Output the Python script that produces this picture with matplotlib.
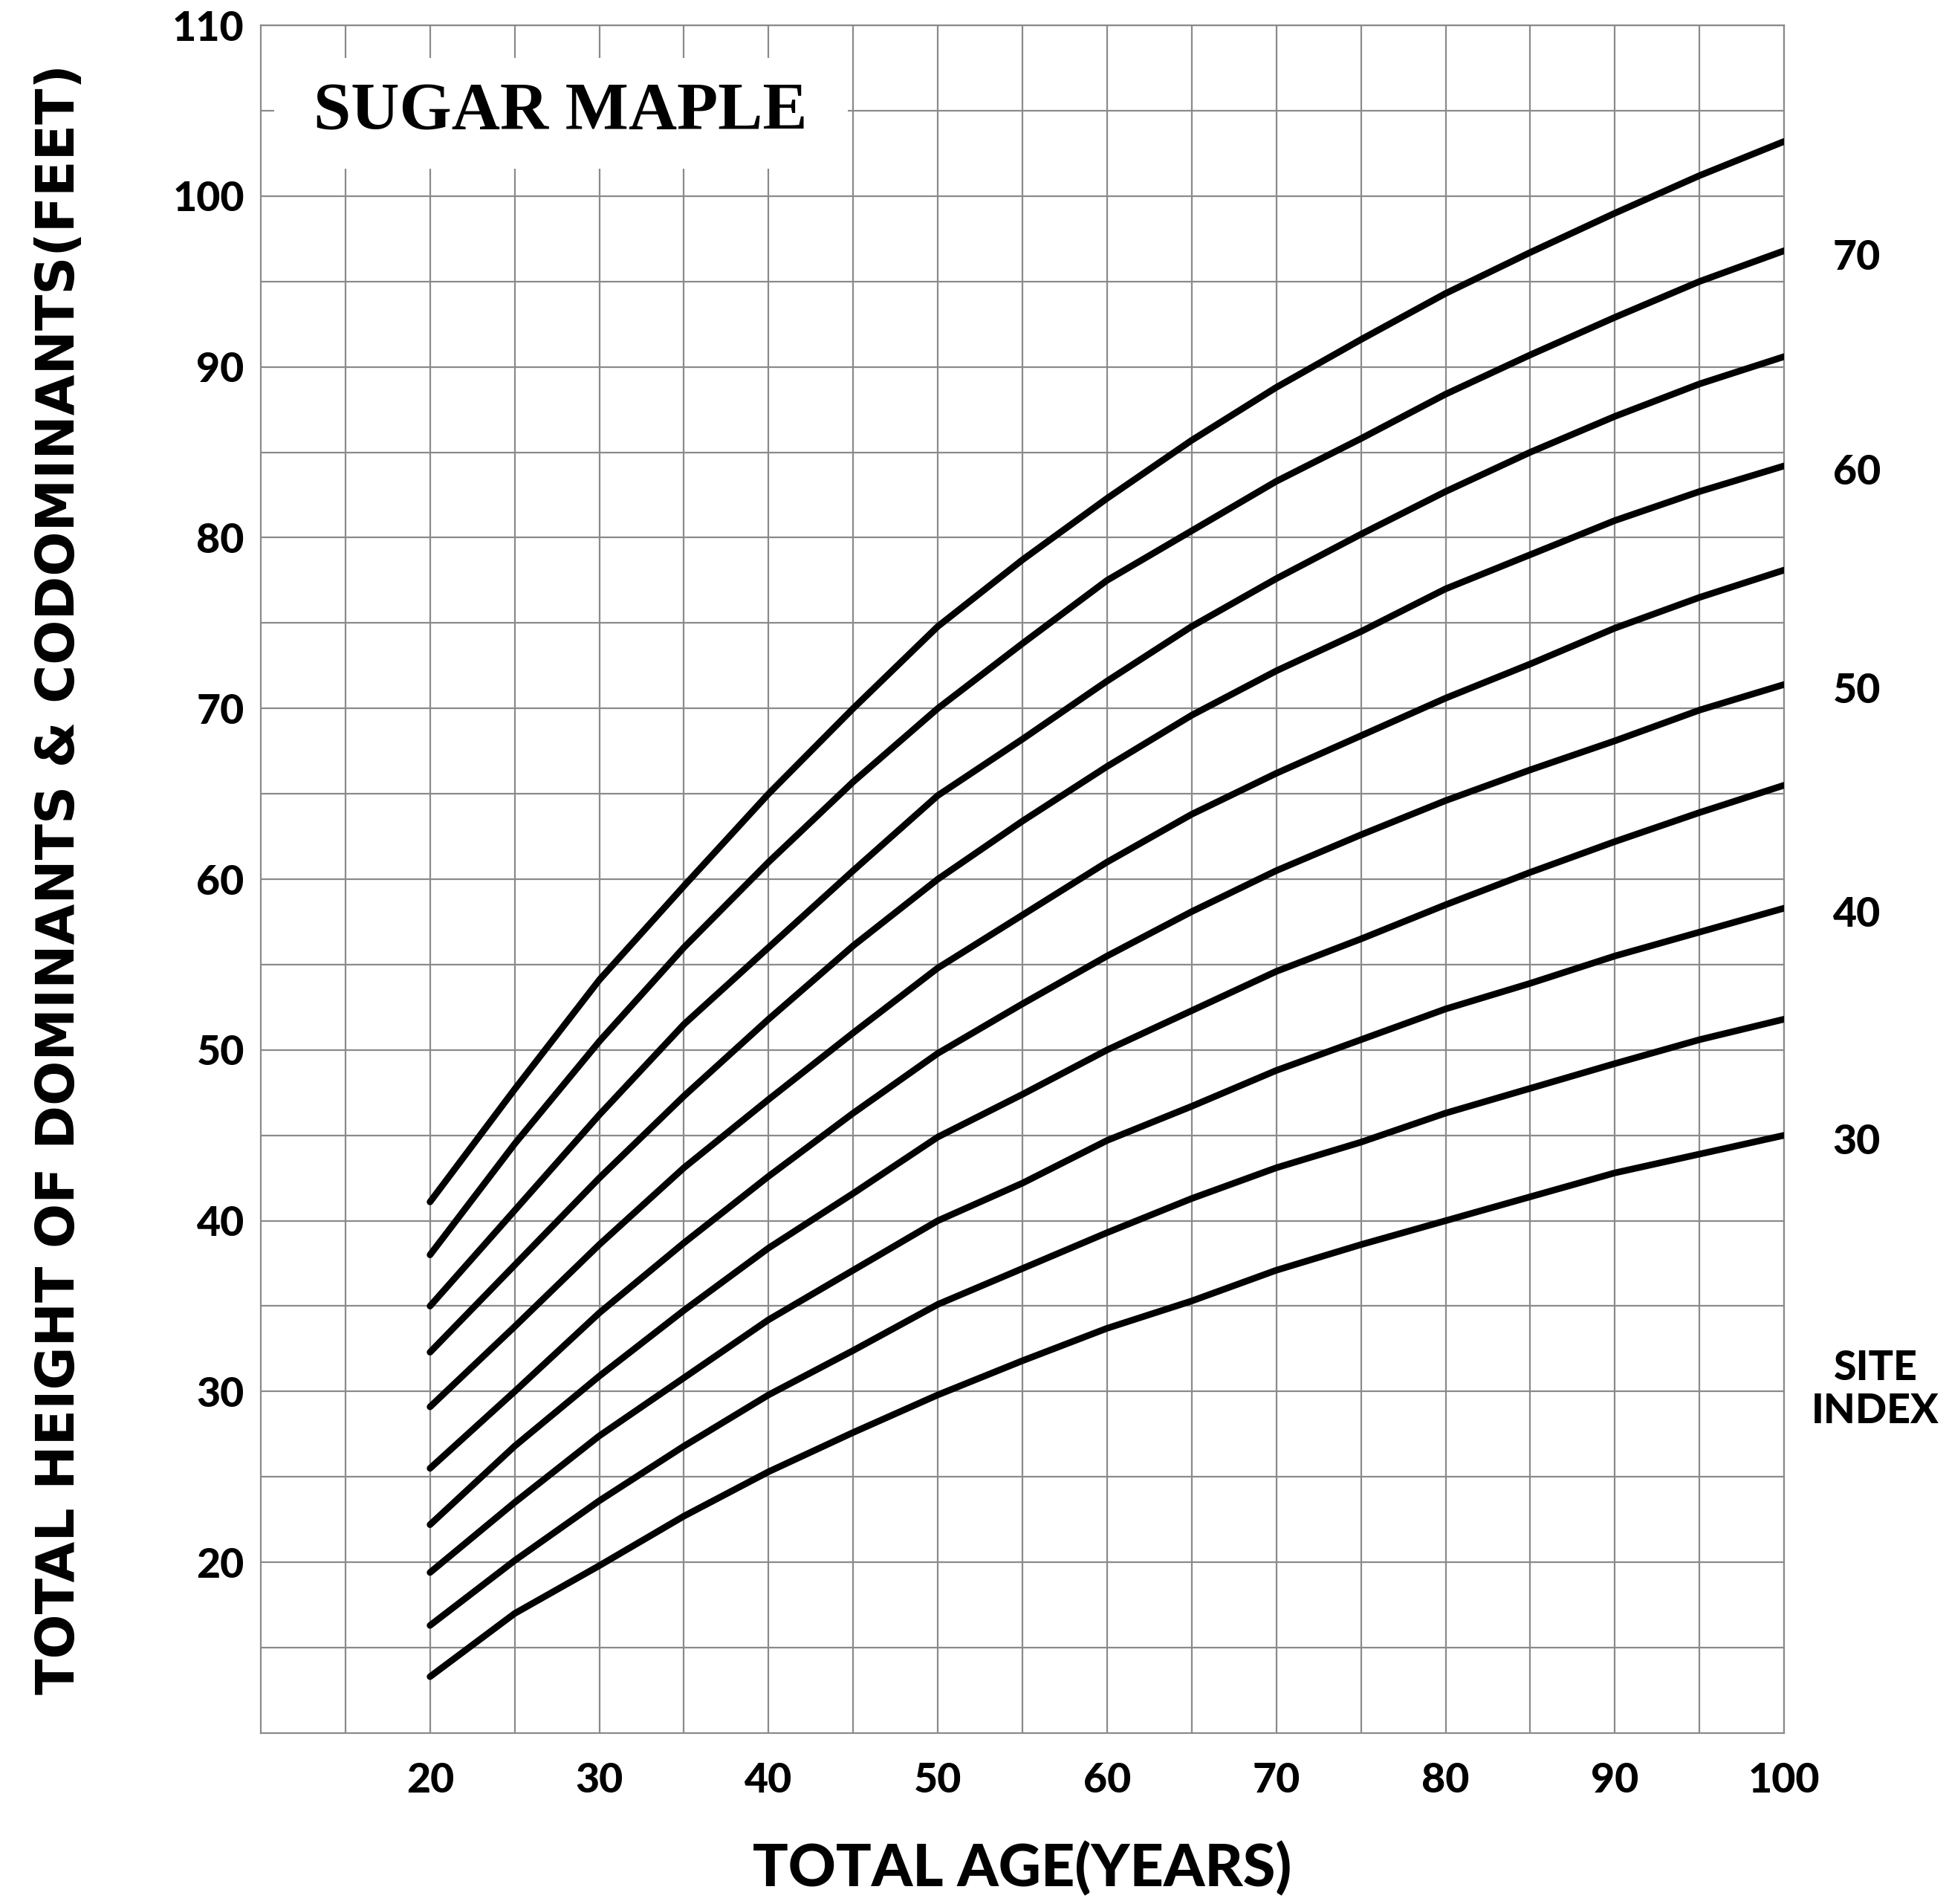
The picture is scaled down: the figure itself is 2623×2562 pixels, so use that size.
import matplotlib
matplotlib.use('Agg')
import matplotlib.pyplot as plt
from matplotlib.patches import Rectangle

# ages (years) at which the curves were read
age = [20, 25, 30, 35, 40, 45, 50, 55, 60, 65, 70, 75, 80, 85, 90, 95, 100]

# total height (feet) for each site index curve
si75 = [41.1, 47.7, 54.1, 59.6, 65.0, 70.0, 74.8, 78.7, 82.3, 85.7, 88.8, 91.6, 94.3, 96.7, 99.0, 101.2, 103.2]
si70 = [38.0, 44.5, 50.5, 56.0, 61.0, 65.7, 70.0, 73.8, 77.5, 80.4, 83.3, 85.8, 88.4, 90.7, 92.9, 95.0, 96.8]
si65 = [35.0, 40.6, 46.2, 51.5, 56.0, 60.5, 64.9, 68.2, 71.6, 74.8, 77.6, 80.2, 82.7, 85.0, 87.1, 89.0, 90.6]
si60 = [32.3, 37.4, 42.5, 47.3, 51.8, 56.1, 60.0, 63.4, 66.6, 69.6, 72.2, 74.5, 77.0, 79.0, 81.0, 82.7, 84.2]
si55 = [29.1, 33.8, 38.6, 43.1, 47.1, 51.0, 54.8, 57.9, 61.0, 63.8, 66.2, 68.4, 70.6, 72.6, 74.7, 76.5, 78.1]
si50 = [25.5, 30.0, 34.6, 38.7, 42.6, 46.3, 49.8, 52.7, 55.5, 58.1, 60.5, 62.6, 64.6, 66.4, 68.1, 69.9, 71.4]
si45 = [22.2, 26.8, 30.9, 34.75, 38.4, 41.6, 44.9, 47.4, 50.0, 52.3, 54.6, 56.5, 58.5, 60.4, 62.2, 63.9, 65.5]
si40 = [19.4, 23.5, 27.4, 30.8, 34.2, 37.1, 40.0, 42.2, 44.7, 46.7, 48.8, 50.6, 52.4, 53.9, 55.5, 56.9, 58.3]
si35 = [16.3, 20.1, 23.6, 26.8, 29.8, 32.4, 35.1, 37.2, 39.3, 41.3, 43.1, 44.6, 46.3, 47.75, 49.2, 50.6, 51.8]
si30 = [13.3, 17.0, 19.8, 22.7, 25.3, 27.6, 29.8, 31.8, 33.7, 35.3, 37.1, 38.6, 40.0, 41.4, 42.8, 43.9, 45.0]

curves = [si75, si70, si65, si60, si55, si50, si45, si40, si35, si30]
# right-hand labels: (text, curve it sits beside)
site_labels = ['70', '60', '50', '40', '30']
site_curves = [si70, si60, si50, si40, si30]

x_ticks = [20, 30, 40, 50, 60, 70, 80, 90, 100]
y_ticks = [20, 30, 40, 50, 60, 70, 80, 90, 100, 110]

fig = plt.figure(figsize=(26.23, 25.62), dpi=100)
ax = fig.add_axes([0.1338, 0.0898, 0.7816, 0.8969])

grid_col = '#8a8a8a'
for c in curves:
    ax.plot(age, c, color='black', lw=6.4, solid_capstyle='round',
            solid_joinstyle='round', zorder=3)

ax.set_xlim(10, 100)
ax.set_ylim(10, 110)
ax.set_xticks(x_ticks)
ax.set_yticks(y_ticks)
ax.set_xticks(range(15, 100, 10), minor=True)
ax.set_yticks(range(15, 110, 10), minor=True)
ax.grid(True, which='both', color=grid_col, lw=1.6)
ax.set_axisbelow(True)
for s in ax.spines.values():
    s.set_color(grid_col)
    s.set_linewidth(1.6)
ax.tick_params(which='both', length=0)
ax.tick_params(axis='y', pad=16)
ax.tick_params(axis='x', pad=28)
for lab in ax.get_xticklabels() + ax.get_yticklabels():
    lab.set_fontfamily('Lato')
    lab.set_fontweight('black')
    lab.set_fontsize(40)

# white box behind the title
ax.add_patch(Rectangle((10.8, 101.6), 33.9, 6.5, facecolor='white', edgecolor='none', zorder=2))
ax.text(27.7, 104.9, 'SUGAR MAPLE', family='Liberation Serif', weight='bold',
        fontsize=65, ha='center', va='center', zorder=4)

for t, c in zip(site_labels, site_curves):
    ax.text(104.3, c[-1] - 0.4, t, family='Lato', weight='black', fontsize=40,
            ha='center', va='center', clip_on=False)
ax.text(105.4, 30.1, 'SITE\nINDEX', family='Lato', weight='black', fontsize=40,
        ha='center', va='center', linespacing=1.2, clip_on=False)

ax.set_xlabel('TOTAL AGE(YEARS)', family='Lato', weight='black', fontsize=57, labelpad=40)
ax.set_ylabel('TOTAL HEIGHT OF DOMINANTS & CODOMINANTS(FEET)', family='DejaVu Sans',
              weight='bold', fontsize=51, labelpad=84)

fig.savefig('out.png', dpi=100, facecolor='white')
